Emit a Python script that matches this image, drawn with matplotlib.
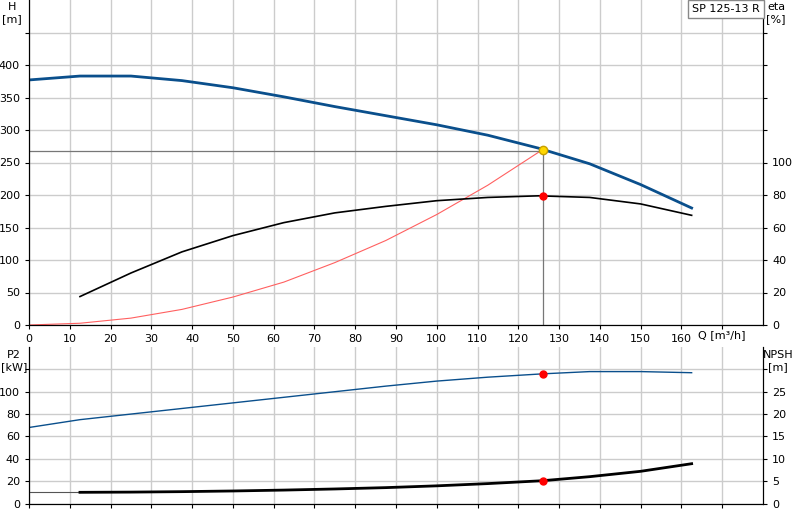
import numpy as np
import matplotlib.pyplot as plt

# Pump curve data
q_h = [0, 12.5, 25, 37.5, 50, 62.5, 75, 87.5, 100, 112.5, 125, 137.5, 150, 162.5]
h = [377, 383, 383, 376, 365, 351, 336, 322, 308, 292, 272, 248, 216, 180]
q_eta = [12.5, 25, 37.5, 50, 62.5, 75, 87.5, 100, 112.5, 125, 137.5, 150, 162.5]
eta = [17.5, 32, 45, 55, 63, 69, 73, 76.5, 78.5, 79.5, 78.5, 74.5, 67.5]
q_sys = [0, 12.5, 25, 37.5, 50, 62.5, 75, 87.5, 100, 112.5, 126]
h_sys = [0, 2.7, 10.6, 24, 43, 66, 96, 130, 170, 215, 270]
q_p2 = [0, 12.5, 25, 37.5, 50, 62.5, 75, 87.5, 100, 112.5, 126, 137.5, 150, 162.5]
p2 = [68, 75, 80, 85, 90, 95, 100, 105, 109.5, 113, 116, 118, 118, 117]
q_npsh = [12.5, 25, 37.5, 50, 62.5, 75, 87.5, 100, 112.5, 126, 137.5, 150, 162.5]
npsh = [2.5, 2.55, 2.65, 2.8, 3.0, 3.25, 3.55, 3.95, 4.45, 5.1, 6.0, 7.2, 8.9]
q_op, h_op, eta_op, p2_op, npsh_op = 126, 270, 79.5, 116, 5.1

fig = plt.figure(figsize=(8, 5.2), dpi=100)
ax = fig.add_axes([29/800, 1 - 325/520, 734/800, 325/520])
ax2 = ax.twinx()
bx = fig.add_axes([29/800, 1 - 503.5/520, 734/800, 156.5/520])
bx2 = bx.twinx()

grid = dict(color='#cccccc', linewidth=1)
for a in (ax, bx):
    a.set_xlim(0, 180)
    a.set_xticks(np.arange(0, 180, 10))
    a.grid(True, **grid)
    a.set_axisbelow(True)
    a.tick_params(labelsize=8, length=3)
    a.spines['top'].set_visible(False)

ax.set_ylim(0, 500)
ax.set_yticks(np.arange(0, 500, 50))
ax.set_yticklabels([str(v) if v <= 400 else '' for v in range(0, 500, 50)])
ax.set_xticklabels([str(v) for v in range(0, 170, 10)] + [''])
ax.text(164, -16, 'Q [m³/h]', fontsize=8, ha='left', va='center')
ax2.set_ylim(0, 200)
ax2.set_yticks(np.arange(0, 200, 20))
ax2.set_yticklabels([str(v) if v <= 100 else '' for v in range(0, 200, 20)])
ax2.tick_params(labelsize=8, length=3)
ax2.spines['top'].set_visible(False)

ax.plot(q_h, h, color='#0a4f8c', linewidth=2)
ax.plot(q_sys, h_sys, color='#ff6060', linewidth=0.8)
ax2.plot(q_eta, eta, color='black', linewidth=1.2)
ax.plot([0, q_op], [267, 267], color='#777777', linewidth=0.9)
ax.plot([q_op, q_op], [0, 267], color='#777777', linewidth=0.9)
ax.plot(q_op, h_op, 'o', color='#ffd700', markeredgecolor='#c8a000', markersize=6, zorder=5)
ax2.plot(q_op, eta_op, 'o', color='red', markersize=5, zorder=5)

bx.set_ylim(0, 140)
bx.set_yticks(np.arange(0, 140, 20))
bx.set_yticklabels(['0', '20', '40', '60', '80', '100', ''])
bx.set_xticklabels([])
bx2.set_ylim(0, 35)
bx2.set_yticks(np.arange(0, 35, 5))
bx2.set_yticklabels(['0', '5', '10', '15', '20', '25', ''])
bx2.tick_params(labelsize=8, length=3)
bx2.spines['top'].set_visible(False)

bx.plot(q_p2, p2, color='#0a4f8c', linewidth=1)
bx.plot(q_op, p2_op, 'o', color='red', markersize=5, zorder=5)
bx2.plot([0, 12.5], [2.5, 2.5], color='#555555', linewidth=0.8)
bx2.plot(q_npsh, npsh, color='black', linewidth=2)
bx2.plot(q_op, npsh_op, 'o', color='red', markersize=5, zorder=5)

fig.text(12/800, 1 - 2/520, 'H\n[m]', fontsize=8, ha='center', va='top')
fig.text(776/800, 1 - 2/520, 'eta\n[%]', fontsize=8, ha='center', va='top')
fig.text(14/800, 1 - 350/520, 'P2\n[kW]', fontsize=8, ha='center', va='top')
fig.text(778/800, 1 - 350/520, 'NPSH\n[m]', fontsize=8, ha='center', va='top')
fig.text(726/800, 1 - 9/520, 'SP 125-13 R', fontsize=8, ha='center', va='center',
         bbox=dict(facecolor='white', edgecolor='#888888', boxstyle='square,pad=0.4'))

fig.savefig('out.png', dpi=100)
